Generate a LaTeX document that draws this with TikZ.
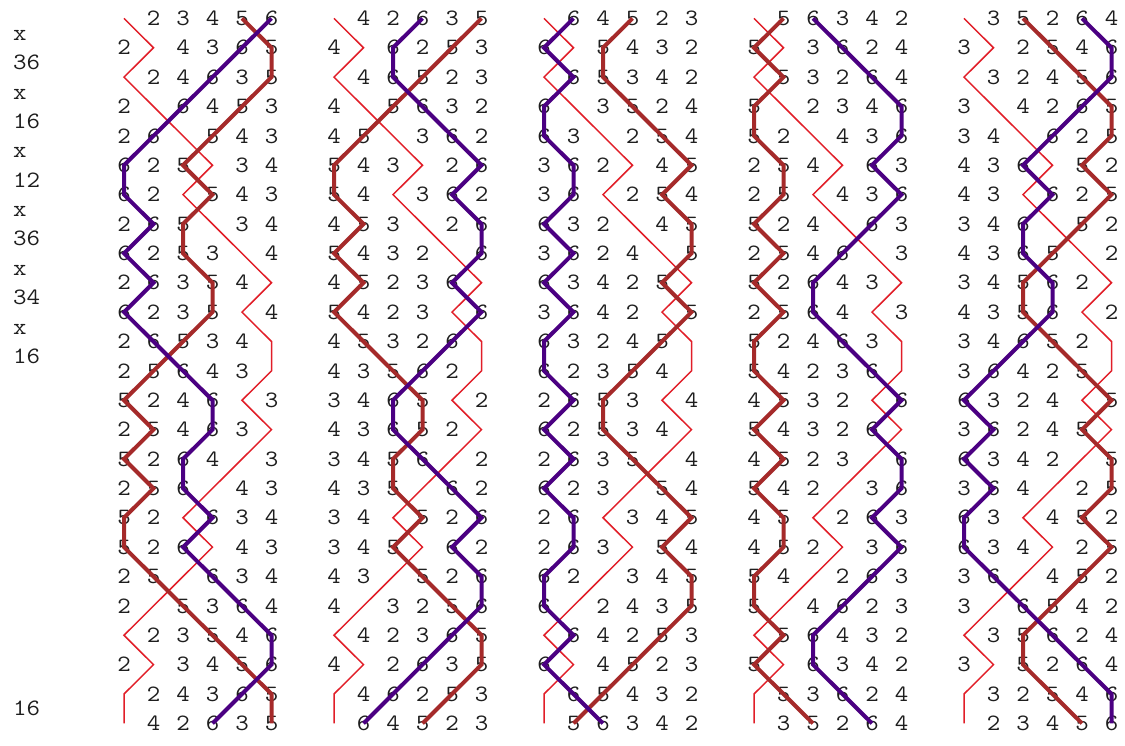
\documentclass[tikz,border=0pt]{standalone}
\usepackage{fontspec}
\setmonofont{Latin Modern Mono}[FakeStretch=1.12]
\newcommand\pickd[7]{\ifcase\numexpr#7\relax\or#1\or#2\or#3\or#4\or#5\or#6\fi}
\definecolor{bellred}{RGB}{225,30,40}
\definecolor{bellpurple}{RGB}{75,0,130}
\definecolor{bellbrown}{RGB}{165,42,42}
\definecolor{digitgray}{RGB}{30,30,30}
\tikzset{
  digit/.style={font=\ttfamily\fontsize{23.4}{23.4}\selectfont, text=digitgray, inner sep=0pt, anchor=base},
  pnlabel/.style={font=\ttfamily\fontsize{23.4}{23.4}\selectfont, text=digitgray, inner sep=0pt, anchor=base west},
  treble/.style={draw=bellred, line width=1.5pt},
  bellsix/.style={draw=bellpurple, line width=4pt},
  bellfive/.style={draw=bellbrown, line width=4pt},
}
\begin{document}
\begin{tikzpicture}[x=1pt,y=-1pt]
\fill[white] (0,0) rectangle (1125,745);
\useasboundingbox (0,0) rectangle (1125,745);
% rows of each lead
\foreach \c/\lh in {0/123456,1/142635,2/164523,3/156342,4/135264}{
  \foreach \r/\pat in {1/123456,2/214365,3/124635,4/216453,5/261543,6/625134,7/621543,8/265134,9/625314,10/263541,11/623514,12/265341,13/256431,14/524613,15/254631,16/526413,17/256143,18/521634,19/526143,20/251634,21/215364,22/123546,23/213456,24/124365,25/142635}{
    \foreach \p in {1,...,6}{
      \edef\bl{\expandafter\pickd\lh{\expandafter\pickd\pat{\p}}}
      \coordinate (b\bl-\c-\r) at ({124+210*\c+29.5*(\p-1)},{18.4+29.375*(\r-1)});
      \ifnum\bl>1 \node[digit] (d-\c-\r-\p) at ({124+210*\c+29.5*(\p-1)},{18.4+29.375*(\r-1)+7.2}) {\bl};\fi
    }
  }
}
% place notation
\foreach \k/\t in {1/x,2/36,3/x,4/16,5/x,6/12,7/x,8/36,9/x,10/34,11/x,12/16,24/16}{
  \node[pnlabel] (pn-\k) at (13,{18.4+29.375*(\k-0.5)+7.2}) {\t};
}
% bell lines
\foreach \c in {0,...,4}{
  \draw[treble] (b1-\c-1) \foreach \r in {2,...,25}{ -- (b1-\c-\r)};
}
\foreach \c in {0,...,4}{
  \draw[bellfive] (b5-\c-1) \foreach \r in {2,...,25}{ -- (b5-\c-\r)};
}
\foreach \c in {0,...,4}{
  \draw[bellsix] (b6-\c-1) \foreach \r in {2,...,25}{ -- (b6-\c-\r)};
}
\end{tikzpicture}
\end{document}
